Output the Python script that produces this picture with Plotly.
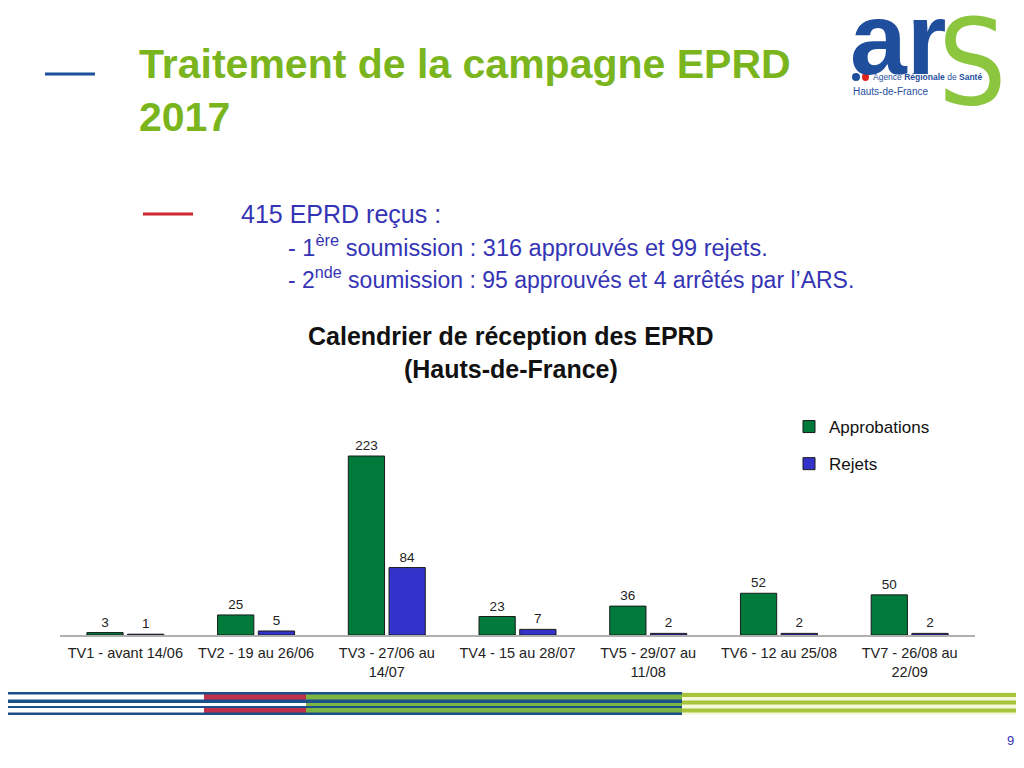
import plotly.graph_objects as go

# data
categories = ["TV1 - avant 14/06", "TV2 - 19 au 26/06", "TV3 - 27/06 au<br>14/07",
              "TV4 - 15 au 28/07", "TV5 - 29/07 au<br>11/08", "TV6 - 12 au 25/08",
              "TV7 - 26/08 au<br>22/09"]
approbations = [3, 25, 223, 23, 36, 52, 50]
rejets = [1, 5, 84, 7, 2, 2, 2]

# the page adds an 8px body margin, so the figure is a bit smaller and coords are shifted
OFF = 8
W, H = 1008, 752


def px(x):
    return (x - OFF) / W


def py(y):
    return 1 - (y - OFF) / H


FONT = "Liberation Sans, Arial"

fig = go.Figure()

fig.add_trace(go.Bar(
    x=categories, y=approbations, name="Approbations",
    marker=dict(color="#007A3A", line=dict(color="#1a1a1a", width=1)),
    text=approbations, textposition="outside",
    textfont=dict(size=13.5, color="#222222", family=FONT),
    cliponaxis=False, legendgroup="a"
))
fig.add_trace(go.Bar(
    x=categories, y=rejets, name="Rejets",
    marker=dict(color="#3333CC", line=dict(color="#1a1a1a", width=1)),
    text=rejets, textposition="outside",
    textfont=dict(size=13.5, color="#222222", family=FONT),
    cliponaxis=False, legendgroup="b"
))

shapes = []
annotations = []


def note(x, y, text, size, color, family=FONT, xanchor="left", yanchor="middle"):
    annotations.append(dict(x=px(x), y=py(y), xref="paper", yref="paper", xanchor=xanchor,
                            yanchor=yanchor, text=text, showarrow=False, align="left",
                            font=dict(size=size, color=color, family=family)))


# slide title
note(137, 90, "<b>Traitement de la campagne EPRD<br>2017</b>", 41, "#7AB51D")
shapes.append(dict(type="line", xref="paper", yref="paper", x0=px(45), x1=px(95),
                   y0=py(74), y1=py(74), line=dict(color="#1C4F9C", width=3)))
shapes.append(dict(type="line", xref="paper", yref="paper", x0=px(143), x1=px(193),
                   y0=py(214), y1=py(214), line=dict(color="#D22630", width=3)))

# bullet text
note(239, 214, "415 EPRD reçus :", 25, "#3434B4")
note(286, 246, "- 1<sup>ère</sup> soumission : 316 approuvés et 99 rejets.", 23.5, "#3434B4")
note(286, 278, "- 2<sup>nde</sup> soumission : 95 approuvés et 4 arrêtés par l’ARS.", 23, "#3434B4")

# logo
note(848, 39, "<b>ar</b>", 102, "#1F4E9D")
note(972, 63, "S", 120, "#8CC63F", family="DejaVu Sans Condensed, Liberation Sans",
     xanchor="center")
note(871, 77, "Agence <b>Régionale</b> de <b>Santé</b>", 8.5, "#1F4E9D")
note(851, 92, "Hauts-de-France", 10, "#1F4E9D")
shapes.append(dict(type="circle", xref="paper", yref="paper", x0=px(852), x1=px(860),
                   y0=py(81), y1=py(73), fillcolor="#1F4E9D", line=dict(width=0)))
shapes.append(dict(type="circle", xref="paper", yref="paper", x0=px(862), x1=px(869),
                   y0=py(81), y1=py(73), fillcolor="#E2231A", line=dict(width=0)))

# chart title
note(511, 353, "<b>Calendrier de réception des EPRD<br>(Hauts-de-France)</b>", 25,
     "#111111", xanchor="center")
annotations[-1]["align"] = "center"

# page number
note(1016, 740, "9", 13, "#3434B4", xanchor="right")


# decorative stripes at the bottom
def band(x0, x1, y0, y1, color):
    shapes.append(dict(type="rect", xref="paper", yref="paper", x0=px(x0), x1=px(x1),
                       y0=py(y1), y1=py(y0), fillcolor=color, line=dict(width=0), layer="above"))


band(0, 682, 692, 715, "#1B4F8A")
rows = [(694.5, 699.5), (703, 706), (708, 712.5)]
for i, (a, b) in enumerate(rows):
    band(0, 204, a, b, "#FFFFFF")
    band(204, 306, a, b, "#FFFFFF" if i == 1 else "#C0304A")
    band(306, 682, a, b, "#7DB544")
band(682, 1024, 692, 715, "#F6F8DA")
for a, b in [(693, 697), (700.5, 704.5), (708.5, 712.5)]:
    band(682, 1024, a, b, "#A8C43C")

fig.update_layout(
    width=W, height=H,
    margin=dict(l=0, r=0, t=0, b=0),
    paper_bgcolor="white", plot_bgcolor="white",
    barmode="group", bargap=0.377, bargroupgap=0.11,
    font=dict(family=FONT, color="#222222"),
    xaxis=dict(domain=[px(60), px(975)], showline=True, linecolor="#b0b0b0", linewidth=2,
               ticks="", tickfont=dict(size=14.5, color="#222222"), ticklabelstandoff=4,
               fixedrange=True),
    yaxis=dict(domain=[py(635), py(400)], range=[0, 292.8], visible=False, fixedrange=True),
    showlegend=True,
    legend=dict(x=px(789), y=py(409), xanchor="left", yanchor="top",
                font=dict(size=17, color="#111111"), traceorder="grouped",
                tracegroupgap=12, bgcolor="rgba(0,0,0,0)"),
    shapes=shapes, annotations=annotations,
)

fig.write_html("out.html")
